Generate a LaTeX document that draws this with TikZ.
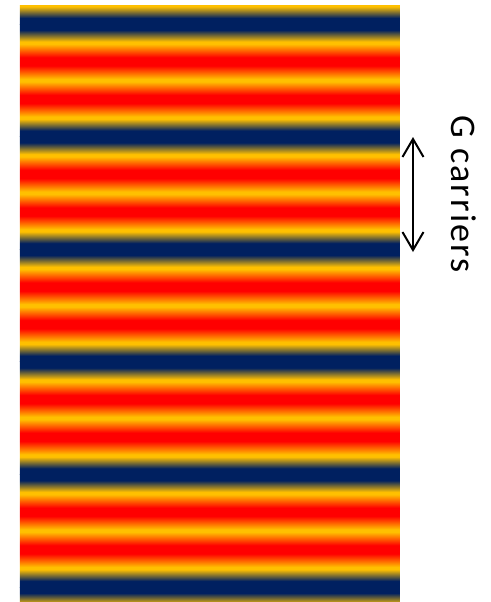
\documentclass[tikz,border=0pt]{standalone}
\usepackage{fontspec}
\setmainfont{Carlito}
\usetikzlibrary{arrows.meta}

\definecolor{carrierblue}{RGB}{0,32,96}
\definecolor{carriergold}{RGB}{255,192,0}
\definecolor{carrierred}{RGB}{255,0,0}

% one period: blue - yellow - red - yellow - red - yellow - blue
\pgfdeclareverticalshading{gperiod}{100bp}{%
  color(0bp)=(carrierblue); color(25bp)=(carrierblue); color(27.66bp)=(carrierblue);
  color(32.8bp)=(carriergold); color(33.9bp)=(carriergold);
  color(39.8bp)=(carrierred); color(43.5bp)=(carrierred);
  color(49.4bp)=(carriergold); color(50.6bp)=(carriergold);
  color(56.5bp)=(carrierred); color(60.2bp)=(carrierred);
  color(66.1bp)=(carriergold); color(67.2bp)=(carriergold);
  color(72.34bp)=(carrierblue); color(75bp)=(carrierblue);
  color(100bp)=(carrierblue)}

\begin{document}
\begin{tikzpicture}[
  x=0.5pt, y=-0.5pt,
  line cap=round, line join=round,
  >={Straight Barb[length=9pt,width=10.5pt]}
]
\useasboundingbox (0,0) rectangle (491,602);

% gestreifte Flaeche
\def\per{112.6}
\fill[carrierblue] (20,5) rectangle (400,601);
\begin{scope}
  \clip (20,5) rectangle (400,601);
  \foreach \k in {-1,...,5} {
    \shade[shading=gperiod] (20,{24+\per*\k}) rectangle (400,{24+\per*(\k+1)});
  }
\end{scope}

% Periode
\coordinate (gtop) at (413,137);
\coordinate (gbot) at (413,252);
\draw[<->, line width=1pt] (gtop) -- (gbot);

\node[rotate=-90, inner sep=0pt,
  font=\fontsize{18}{20}\selectfont\addfontfeatures{LetterSpace=6}]
  (glabel) at (464,194) {G carriers};
\end{tikzpicture}
\end{document}
